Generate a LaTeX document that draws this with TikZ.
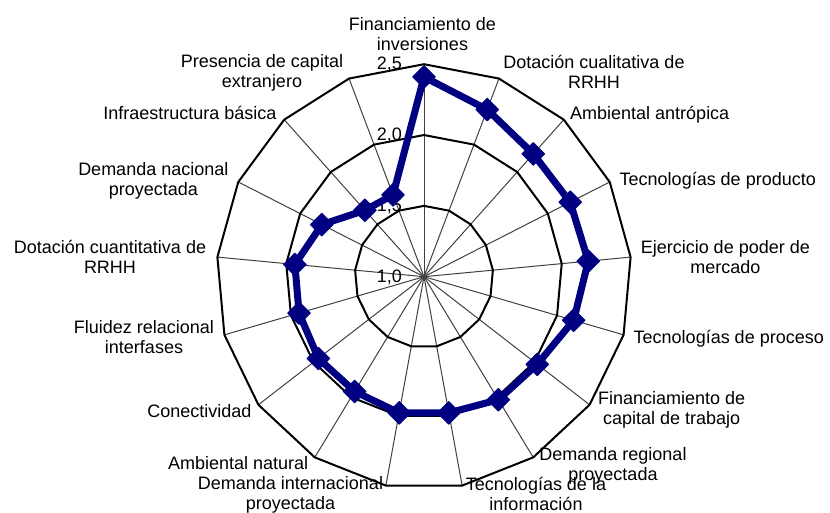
\documentclass[tikz,border=0pt]{standalone}
\usepackage{fontspec}
\setmainfont{Liberation Sans}
\usetikzlibrary{shapes.geometric}
\definecolor{navyblue}{HTML}{000080}
\begin{document}
\begin{tikzpicture}[x=1pt,y=1pt,
  lbl/.style={font=\fontsize{18}{20}\selectfont, inner sep=0pt, align=center},
  ticklbl/.style={font=\fontsize{18}{20}\selectfont, inner sep=0pt, anchor=east},
  spoke/.style={line width=1pt, black!75},
  ring/.style={line width=2pt, black, line join=miter},
  series/.style={line width=7pt, navyblue, line join=round},
  marker/.style={diamond, fill=navyblue, draw=navyblue, line width=1pt, line join=round, minimum size=23pt, inner sep=0pt}]
\useasboundingbox (0,0) rectangle (830,512);
\coordinate (c) at (424,235.3);
\def\rx{207.5}\def\ry{212.5}
\foreach \k in {0,...,16}{
  \pgfmathsetmacro\a{\k*360/17}
  \coordinate (v\k) at ([shift={({\rx*sin(\a)},{\ry*cos(\a)})}]c);
  \coordinate (m\k) at ([shift={({\rx*sin(\a)*2/3},{\ry*cos(\a)*2/3})}]c);
  \coordinate (n\k) at ([shift={({\rx*sin(\a)/3},{\ry*cos(\a)/3})}]c);
}
% spokes
\foreach \k in {0,...,16}{ \draw[spoke] (c) -- (v\k); }
% rings
\draw[ring] (v0)--(v1)--(v2)--(v3)--(v4)--(v5)--(v6)--(v7)--(v8)--(v9)--(v10)--(v11)--(v12)--(v13)--(v14)--(v15)--(v16)--cycle;
\draw[ring] (m0)--(m1)--(m2)--(m3)--(m4)--(m5)--(m6)--(m7)--(m8)--(m9)--(m10)--(m11)--(m12)--(m13)--(m14)--(m15)--(m16)--cycle;
\draw[ring] (n0)--(n1)--(n2)--(n3)--(n4)--(n5)--(n6)--(n7)--(n8)--(n9)--(n10)--(n11)--(n12)--(n13)--(n14)--(n15)--(n16)--cycle;
% tick labels
\node[ticklbl] (t10) at (402,234.3) {1,0};
\node[ticklbl] (t15) at (402,305.5) {1,5};
\node[ticklbl] (t20) at (402,376.5) {2,0};
\node[ticklbl] (t25) at (402,447.5) {2,5};
% data
\foreach \k/\f in {0/0.940,1/0.8435,2/0.782,3/0.787,4/0.795,5/0.750,6/0.684,7/0.681,8/0.652,9/0.652,10/0.635,11/0.638,12/0.626,13/0.625,14/0.55,15/0.423,16/0.413}{
  \pgfmathsetmacro\a{\k*360/17}
  \coordinate (d\k) at ([shift={({\rx*\f*sin(\a)},{\ry*\f*cos(\a)})}]c);
}
\draw[series] (d0)--(d1)--(d2)--(d3)--(d4)--(d5)--(d6)--(d7)--(d8)--(d9)--(d10)--(d11)--(d12)--(d13)--(d14)--(d15)--(d16)--cycle;
\foreach \k in {0,...,16}{ \node[marker] (p\k) at (d\k) {}; }
% category labels
\node[lbl] (l1) at (422.5,478) {Financiamiento de\\inversiones};
\node[lbl] (l2) at (594,440) {Dotación cualitativa de\\RRHH};
\node[lbl, anchor=west] (l3) at (570,397.3) {Ambiental antrópica};
\node[lbl, anchor=west] (l4) at (619.5,331.5) {Tecnologías de producto};
\node[lbl] (l5) at (725.3,254.5) {Ejercicio de poder de\\mercado};
\node[lbl, anchor=west] (l6) at (633.5,173.3) {Tecnologías de proceso};
\node[lbl] (l7) at (671.7,102.3) {Financiamiento de\\capital de trabajo};
\node[lbl] (l8) at (613,46.6) {Demanda regional\\proyectada};
\node[lbl] (l9) at (536,18.5) {Tecnologías de la\\información};
\node[lbl] (l10) at (290.5,17.6) {Demanda internacional\\proyectada};
\node[lbl, anchor=east] (l11) at (308.3,48.5) {Ambiental natural};
\node[lbl, anchor=east] (l12) at (251.7,100.6) {Conectividad};
\node[lbl] (l13) at (144,175.2) {Fluidez relacional\\interfases};
\node[lbl] (l14) at (110,255.2) {Dotación cuantitativa de\\RRHH};
\node[lbl] (l15) at (153.3,331.6) {Demanda nacional\\proyectada};
\node[lbl, anchor=east] (l16) at (276.7,399.2) {Infraestructura básica};
\node[lbl] (l17) at (262,439.3) {Presencia de capital\\extranjero};
\end{tikzpicture}
\end{document}
